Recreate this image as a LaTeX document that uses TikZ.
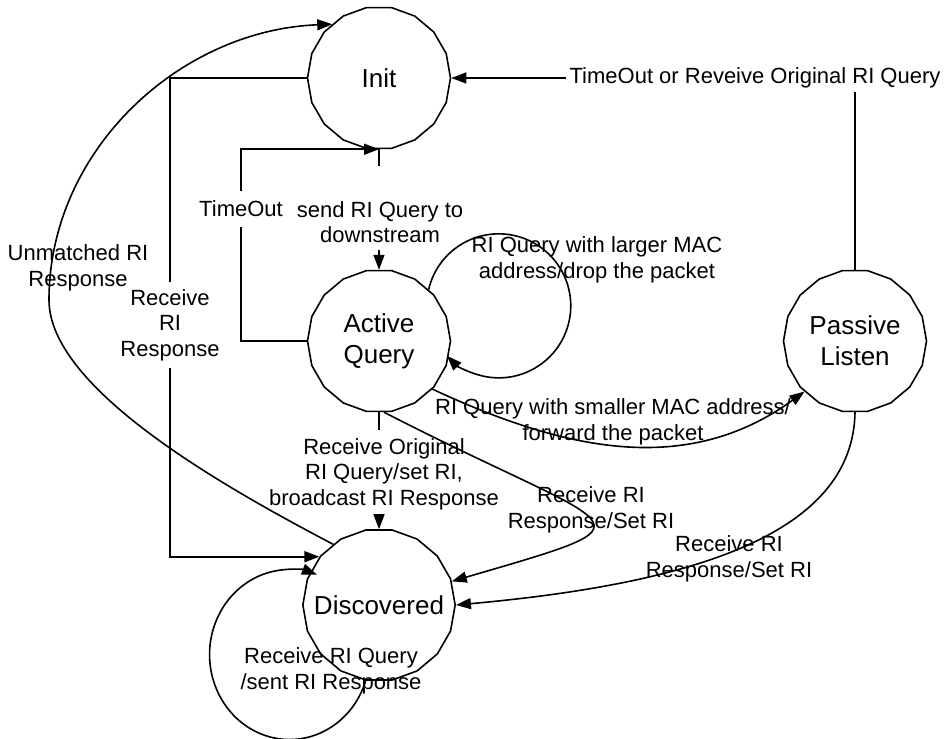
\documentclass[tikz,border=0pt]{standalone}
\usepackage{fontspec}
\setmainfont{Liberation Sans}
\usetikzlibrary{arrows.meta,shapes.geometric}

\begin{document}
\begin{tikzpicture}[x=1pt,y=1pt,line width=1.6pt,
  state/.style={draw, regular polygon, regular polygon sides=18, minimum size=143pt,
    inner sep=-12pt, align=center, font=\fontsize{26}{31}\selectfont},
  lbl/.style={align=center, inner sep=3pt, font=\fontsize{22}{25.5}\selectfont},
  arr/.style={-{Triangle[length=15pt,width=11pt]}}]
  \useasboundingbox (0,0) rectangle (949,-738);

  \node[state] (init) at (379,-78) {Init};
  \node[state] (active) at (379,-341) {Active\\Query};
  \node[state] (passive) at (855,-341) {Passive\\Listen};
  \node[state] (disc) at (379,-605) {Discovered};

  \node[lbl, inner ysep=6pt] (sendlbl) at (380,-222) {send RI Query to\\downstream};
  \node[lbl, inner ysep=9pt] (tolbl) at (241,-209) {TimeOut};
  \node[lbl, inner ysep=6pt] (rlbl) at (170,-325) {Receive\\RI\\Response};
  \node[lbl] (umlbl) at (78,-268) {Unmatched RI\\Response};
  \node[lbl] (orlbl) at (755,-78) {TimeOut or Reveive Original RI Query};
  \node[lbl] (lglbl) at (597,-260) {RI Query with larger MAC\\address/drop the packet};
  \node[lbl] (smlbl) at (613,-422) {RI Query with smaller MAC address/\\forward the packet};
  \node[lbl, inner ysep=7pt] (bclbl) at (384,-474) {Receive Original\\RI Query/set RI,\\broadcast RI Response};
  \node[lbl] (aqlbl) at (591,-510) {Receive RI\\Response/Set RI};
  \node[lbl] (pllbl) at (729,-559) {Receive RI\\Response/Set RI};
  \node[lbl] (dslbl) at (331,-671) {Receive RI Query\\/sent RI Response};

  \coordinate (sendtop) at ([yshift=-17pt]init.south);
  \draw (init.south) -- (sendtop);
  \draw[arr] (sendlbl.south -| active.north) -- (active.north);

  \draw (active.west) -| (tolbl.south);
  \draw[arr] (tolbl.north) |- (init.south);

  \draw (init.west) -| (rlbl.north);
  \draw[arr] (rlbl.south) |- (disc.141);

  \draw[arr] (disc.127) .. controls (230,-490) and (49,-390) .. (49,-300)
    .. controls (49,-150) and (180,-30) .. (init.131);

  \draw (passive.north) -- (passive.north |- orlbl.south);
  \draw[arr] (orlbl.west) -- (init.east);

  \draw[arr] (active.46) arc[start angle=167, end angle=-136, radius=72pt];
  \draw[arr] (active.-42) to[out=-25, in=216] (passive.225);

  \draw (active.south) -- (active.south |- bclbl.north);
  \draw[arr] (bclbl.south -| disc.north) -- (disc.north);

  \draw[arr] (active.-86) .. controls (623,-535) and (669,-518) .. (disc.18);
  \draw[arr] (passive.south) .. controls (853,-532) and (699,-583) .. (disc.east);

  \draw[arr] (disc.-100) arc[start angle=-18, end angle=-290, x radius=80pt, y radius=85pt];
\end{tikzpicture}
\end{document}
